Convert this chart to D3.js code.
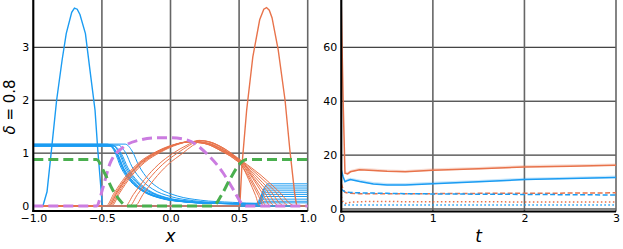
<!DOCTYPE html>
<html>
<head>
<meta charset="utf-8">
<script src="https://cdnjs.cloudflare.com/ajax/libs/d3/7.8.5/d3.min.js"></script>
<style>
  body { margin: 0; background: #fff; }
  text { font-family: "DejaVu Sans", sans-serif; fill: #000; }
</style>
</head>
<body>
<div id="chart"></div>
<script>
// ---- left panel data (x in [-1,1]) ----
var xTicksL = [-1, -0.5, 0, 0.5, 1];
var yTicksL = [0, 1, 2, 3];

var bluePeakX = [-1, -0.93, -0.9, -0.87, -0.83, -0.79, -0.76, -0.72, -0.7, -0.68, -0.66, -0.62, -0.59, -0.55, -0.53, -0.5, -0.495, 1];
var bluePeakY = [0, 0, 0.27, 1.0, 2.0, 2.76, 3.26, 3.66, 3.74, 3.72, 3.62, 3.26, 2.63, 1.81, 1.06, 0.11, 0, 0];

var orangePeakX = [-1, 0.505, 0.52, 0.555, 0.6, 0.65, 0.68, 0.7, 0.72, 0.74, 0.785, 0.835, 0.87, 0.905, 0.92, 1];
var orangePeakY = [0, 0, 0.74, 1.81, 2.82, 3.52, 3.72, 3.75, 3.7, 3.56, 2.95, 2.0, 1.06, 0.24, 0, 0];

var magentaX = [-1, -0.55, -0.54, -0.49, -0.44, -0.34, -0.22, -0.1, 0, 0.12, 0.26, 0.385, 0.46, 0.53, 0.55, 1];
var magentaY = [0, 0, 0, 0.37, 0.81, 1.12, 1.25, 1.29, 1.29, 1.25, 1.0, 0.62, 0.3, 0.02, 0, 0];

var greenX = [-1, -0.54, -0.48, -0.42, -0.36, -0.32, 0.31, 0.37, 0.43, 0.51, 0.555, 1];
var greenY = [0.88, 0.88, 0.62, 0.3, 0.08, 0, 0, 0.2, 0.49, 0.81, 0.88, 0.88];

// blue family, [x, y] pairs
var blueFamily = [
  [[-1,1.17],[-0.46,1.17],[-0.41,1.04],[-0.36,0.72],[-0.29,0.46],[-0.21,0.29],[-0.08,0.15],[0.09,0.08],[0.30,0.05],[0.62,0.04],[0.71,0.42],[1,0.42]],
  [[-1,1.16],[-0.45,1.16],[-0.40,1.03],[-0.35,0.72],[-0.28,0.46],[-0.20,0.29],[-0.07,0.15],[0.10,0.08],[0.31,0.05],[0.63,0.04],[0.70,0.38],[1,0.38]],
  [[-1,1.15],[-0.45,1.15],[-0.40,1.02],[-0.35,0.71],[-0.28,0.45],[-0.20,0.28],[-0.07,0.15],[0.10,0.08],[0.31,0.05],[0.63,0.04],[0.70,0.34],[1,0.34]],
  [[-1,1.14],[-0.44,1.14],[-0.39,1.01],[-0.34,0.71],[-0.27,0.46],[-0.19,0.29],[-0.06,0.15],[0.11,0.08],[0.32,0.05],[0.64,0.04],[0.70,0.30],[1,0.30]],
  [[-1,1.13],[-0.44,1.13],[-0.39,1.00],[-0.34,0.70],[-0.27,0.45],[-0.19,0.28],[-0.06,0.15],[0.11,0.08],[0.32,0.05],[0.64,0.04],[0.69,0.26],[1,0.26]],
  [[-1,1.16],[-0.43,1.16],[-0.38,1.03],[-0.33,0.72],[-0.26,0.47],[-0.18,0.30],[-0.05,0.16],[0.12,0.08],[0.33,0.05],[0.64,0.04],[0.69,0.22],[1,0.22]],
  [[-1,1.14],[-0.42,1.14],[-0.37,1.01],[-0.32,0.72],[-0.25,0.47],[-0.17,0.30],[-0.04,0.16],[0.13,0.09],[0.34,0.05],[0.65,0.04],[0.69,0.18],[1,0.18]],
  [[-1,1.13],[-0.41,1.13],[-0.36,1.00],[-0.31,0.72],[-0.24,0.47],[-0.16,0.30],[-0.03,0.16],[0.14,0.09],[0.35,0.05],[0.65,0.04],[0.68,0.13],[1,0.13]],
  [[-1,1.15],[-0.38,1.15],[-0.33,1.02],[-0.28,0.74],[-0.21,0.49],[-0.13,0.32],[0.00,0.18],[0.17,0.10],[0.38,0.06],[0.66,0.04],[0.68,0.09],[1,0.09]],
  [[-1,1.17],[-0.33,1.17],[-0.28,1.04],[-0.23,0.76],[-0.16,0.50],[-0.08,0.33],[0.05,0.19],[0.22,0.11],[0.45,0.07],[0.66,0.05],[0.68,0.06],[1,0.06]]
];

// orange family, [x, y] pairs
var orangeFamily = [
  [[-1,0],[-0.47,0],[-0.41,0.25],[-0.33,0.55],[-0.23,0.82],[-0.11,1.02],[0.01,1.15],[0.13,1.21],[0.25,1.18],[0.37,1.04],[0.46,0.90],[0.52,0.76],[0.57,0.50],[0.62,0.20],[0.65,0],[1,0]],
  [[-1,0],[-0.46,0],[-0.40,0.25],[-0.32,0.55],[-0.22,0.82],[-0.10,1.02],[0.02,1.15],[0.13,1.21],[0.25,1.18],[0.37,1.04],[0.46,0.90],[0.52,0.76],[0.58,0.50],[0.64,0.20],[0.68,0],[1,0]],
  [[-1,0],[-0.45,0],[-0.39,0.25],[-0.31,0.55],[-0.21,0.82],[-0.09,1.02],[0.03,1.16],[0.14,1.21],[0.26,1.18],[0.38,1.04],[0.47,0.90],[0.53,0.76],[0.59,0.50],[0.65,0.22],[0.70,0],[1,0]],
  [[-1,0],[-0.45,0],[-0.39,0.26],[-0.31,0.56],[-0.21,0.83],[-0.09,1.03],[0.03,1.16],[0.14,1.22],[0.26,1.19],[0.38,1.05],[0.47,0.91],[0.53,0.77],[0.60,0.52],[0.67,0.24],[0.73,0],[1,0]],
  [[-1,0],[-0.44,0],[-0.38,0.25],[-0.30,0.55],[-0.20,0.82],[-0.08,1.02],[0.04,1.16],[0.15,1.22],[0.27,1.19],[0.39,1.05],[0.48,0.91],[0.54,0.77],[0.60,0.55],[0.68,0.28],[0.76,0],[1,0]],
  [[-1,0],[-0.43,0],[-0.37,0.25],[-0.29,0.55],[-0.19,0.82],[-0.07,1.02],[0.05,1.16],[0.15,1.22],[0.27,1.19],[0.39,1.05],[0.48,0.91],[0.54,0.78],[0.61,0.56],[0.70,0.30],[0.79,0],[1,0]],
  [[-1,0],[-0.33,0],[-0.27,0.22],[-0.19,0.50],[-0.09,0.78],[0.02,1.00],[0.12,1.15],[0.20,1.24],[0.28,1.21],[0.37,1.10],[0.47,0.92],[0.54,0.78],[0.62,0.58],[0.72,0.31],[0.83,0],[1,0]],
  [[-1,0],[-0.30,0],[-0.24,0.22],[-0.16,0.50],[-0.06,0.78],[0.05,1.00],[0.14,1.15],[0.21,1.24],[0.29,1.21],[0.38,1.10],[0.48,0.92],[0.55,0.78],[0.64,0.58],[0.75,0.31],[0.87,0],[1,0]],
  [[-1,0],[-0.26,0],[-0.20,0.22],[-0.12,0.50],[-0.02,0.78],[0.09,1.00],[0.16,1.14],[0.23,1.23],[0.30,1.20],[0.39,1.09],[0.49,0.91],[0.56,0.78],[0.66,0.58],[0.78,0.30],[0.91,0],[1,0]]
];

// ---- right panel data (t in [0,3]) ----
var xTicksR = [0, 1, 2, 3];
var yTicksR = [0, 20, 40, 60];
var tVals        = [0, 0.02, 0.04, 0.07, 0.1, 0.2, 0.35, 0.5, 0.7, 1, 1.5, 2, 2.5, 3];
var orangeSolid  = [75, 40, 13.3, 13.0, 13.8, 14.6, 14.3, 14.0, 13.8, 14.4, 14.9, 15.6, 15.9, 16.2];
var blueSolid    = [14.5, 12, 10.1, 10.6, 10.9, 10.2, 9.3, 8.9, 8.9, 9.4, 10.1, 10.9, 11.3, 11.7];
var orangeDashed = [9.5, 7.2, 6.2, 5.9, 5.8, 5.7, 5.7, 5.7, 5.7, 5.7, 5.8, 5.8, 5.9, 6.0];
var blueDashed   = [7.5, 6.8, 6.4, 6.2, 6.1, 6.0, 5.9, 5.8, 5.7, 5.6, 5.5, 5.4, 5.3, 5.2];
var orangeDotted = [4.5, 2.6, 2.0, 2.2, 2.5, 2.7, 2.8, 2.8, 2.7, 2.7, 2.7, 2.6, 2.6, 2.6];
var blueDotted   = [2.5, 1.8, 1.5, 1.5, 1.5, 1.5, 1.5, 1.5, 1.5, 1.5, 1.5, 1.5, 1.5, 1.5];

var BLUE = '#1b9cf2', ORANGE = '#e8734b', GREEN = '#4aaf4f', MAGENTA = '#cb7ce0';

var svg = d3.select('#chart').append('svg')
  .attr('width', 623)
  .attr('height', 249);

function zip(xs, ys) { return xs.map(function(x, i) { return [x, ys[i]]; }); }

function panel(id, x, y, xTicks, yTicks, xFmt) {
  var g = svg.append('g');
  var x0 = x.range()[0], x1 = x.range()[1], y0 = y.range()[0], y1 = y.range()[1];

  g.append('clipPath').attr('id', id)
    .append('rect').attr('x', x0).attr('y', y1).attr('width', x1 - x0).attr('height', y0 - y1);

  // gridlines
  g.selectAll('.hgrid').data(yTicks).enter().append('line')
    .attr('x1', x0).attr('x2', x1)
    .attr('y1', function(d) { return y(d); }).attr('y2', function(d) { return y(d); })
    .attr('stroke', '#111').attr('stroke-width', 1);
  g.selectAll('.vgrid').data(xTicks).enter().append('line')
    .attr('x1', function(d) { return x(d); }).attr('x2', function(d) { return x(d); })
    .attr('y1', y1).attr('y2', y0)
    .attr('stroke', '#666').attr('stroke-width', 1.6);

  var ax = g.append('g').attr('transform', 'translate(0,' + y0 + ')')
    .call(d3.axisBottom(x).tickValues(xTicks).tickSize(0).tickPadding(3).tickFormat(xFmt));
  var ay = g.append('g').attr('transform', 'translate(' + x0 + ',0)')
    .call(d3.axisLeft(y).tickValues(yTicks).tickSize(0).tickPadding(4).tickFormat(d3.format('d')));
  [ax, ay].forEach(function(a) {
    a.select('.domain').remove();
    a.selectAll('text').style('font-size', '11px').style('font-family', '"DejaVu Sans", sans-serif').attr('fill', '#000');
  });

  var plot = g.append('g').attr('clip-path', 'url(#' + id + ')');
  return { g: g, plot: plot, x0: x0, x1: x1, y0: y0, y1: y1 };
}

// ---- left panel ----
var xL = d3.scaleLinear().domain([-1, 1]).range([33.3, 307.7]);
var yL = d3.scaleLinear().domain([-0.094, 3.894]).range([211, 0]);
var L = panel('clipL', xL, yL, xTicksL, yTicksL, d3.format('.1f'));

var lineL = d3.line().x(function(d) { return xL(d[0]); }).y(function(d) { return yL(d[1]); }).curve(d3.curveMonotoneX);
var lineLin = d3.line().x(function(d) { return xL(d[0]); }).y(function(d) { return yL(d[1]); });

L.plot.selectAll('.bf').data(blueFamily).enter().append('path')
  .attr('d', lineL).attr('fill', 'none').attr('stroke', BLUE).attr('stroke-width', 1);
L.plot.selectAll('.of').data(orangeFamily).enter().append('path')
  .attr('d', lineL).attr('fill', 'none').attr('stroke', ORANGE).attr('stroke-width', 1);
L.plot.append('path').attr('d', lineLin(zip(bluePeakX, bluePeakY)))
  .attr('fill', 'none').attr('stroke', BLUE).attr('stroke-width', 1.4);
L.plot.append('path').attr('d', lineLin(zip(orangePeakX, orangePeakY)))
  .attr('fill', 'none').attr('stroke', ORANGE).attr('stroke-width', 1.4);
L.plot.append('path').attr('d', lineL(zip(magentaX, magentaY)))
  .attr('fill', 'none').attr('stroke', MAGENTA).attr('stroke-width', 3).attr('stroke-dasharray', '10,5');
L.plot.append('path').attr('d', lineL(zip(greenX, greenY)))
  .attr('fill', 'none').attr('stroke', GREEN).attr('stroke-width', 3).attr('stroke-dasharray', '10,5');

// ---- right panel ----
var xR = d3.scaleLinear().domain([0, 3]).range([341.3, 616]);
var yR = d3.scaleLinear().domain([-0.93, 77.55]).range([211.5, 0]);
var R = panel('clipR', xR, yR, xTicksR, yTicksR, d3.format('d'));

var lineR = d3.line().x(function(d) { return xR(d[0]); }).y(function(d) { return yR(d[1]); });
var bandR = d3.area().x(function(d) { return xR(d[0]); })
  .y0(function(d) { return yR(d[1] - 0.2); }).y1(function(d) { return yR(d[1] + 0.7); });

var rightSeries = [
  { v: orangeSolid, c: ORANGE, dash: null, w: 1.5, band: true },
  { v: blueSolid, c: BLUE, dash: null, w: 1.5, band: true },
  { v: orangeDashed, c: ORANGE, dash: '5,2.5', w: 1.5 },
  { v: blueDashed, c: BLUE, dash: '5,2.5', w: 1.5 },
  { v: orangeDotted, c: ORANGE, dash: '1.5,2.5', w: 1.5 },
  { v: blueDotted, c: BLUE, dash: '1.5,2.5', w: 1.5 }
];
rightSeries.forEach(function(s) {
  var pts = zip(tVals, s.v);
  if (s.band) {
    R.plot.append('path').attr('d', bandR(pts.slice(2))).attr('fill', s.c).attr('opacity', 0.25);
  }
  R.plot.append('path').attr('d', lineR(pts))
    .attr('fill', 'none').attr('stroke', s.c).attr('stroke-width', s.w)
    .attr('stroke-dasharray', s.dash);
});

// spines
[L, R].forEach(function(p) {
  p.g.append('line').attr('x1', p.x0).attr('x2', p.x0).attr('y1', 0).attr('y2', p.y0 + 1)
    .attr('stroke', '#000').attr('stroke-width', 2);
  p.g.append('line').attr('x1', p.x0 - 1).attr('x2', p.x1).attr('y1', p.y0).attr('y2', p.y0)
    .attr('stroke', '#000').attr('stroke-width', 2.2);
});

// axis labels
svg.append('text').attr('x', 170.5).attr('y', 242).attr('text-anchor', 'middle')
  .style('font-size', '17px').style('font-style', 'italic').text('x');
svg.append('text').attr('x', 478.6).attr('y', 242).attr('text-anchor', 'middle')
  .style('font-size', '17px').style('font-style', 'italic').text('t');
var yl = svg.append('text').attr('transform', 'translate(15,107) rotate(-90)')
  .attr('text-anchor', 'middle').style('font-size', '15px');
yl.append('tspan').style('font-style', 'italic').text('δ');
yl.append('tspan').text(' = 0.8');
</script>
</body>
</html>
